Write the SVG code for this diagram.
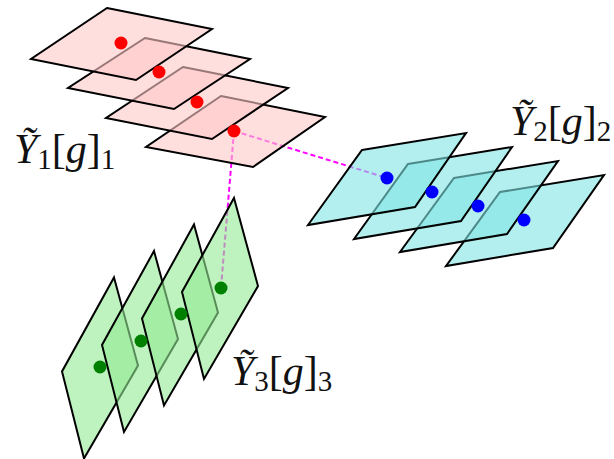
<svg xmlns="http://www.w3.org/2000/svg" width="614" height="459" viewBox="0 0 614 459">
<style>
.pl{stroke:#000;stroke-width:2;stroke-linejoin:miter}
.pk{fill:#ffc8c8;fill-opacity:0.6}
.cy{fill:#80e4e4;fill-opacity:0.6}
.gr{fill:#93e993;fill-opacity:0.6}
.conn{stroke:#ff00ff;stroke-width:2;stroke-dasharray:5 3;fill:none}
.lbl{font-family:"Liberation Serif","DejaVu Serif",serif;font-size:42px;fill:#111}
.it{font-style:italic}
.sub{font-size:29px}
</style>
<rect width="614" height="459" fill="#fff"/>
<g id="connectors">
<line class="conn" x1="234" y1="131" x2="387" y2="178"/>
<line class="conn" x1="234" y1="131" x2="221" y2="288"/>
</g>
<g id="Y1">
<polygon class="pl pk" points="221,96 325,117 253,167 146,147"/>
<polygon class="pl pk" points="183,67 288,88 212,139 106,118"/>
<polygon class="pl pk" points="145,38 250,59 174,109 68,88"/>
<polygon class="pl pk" points="107,8 212,29 136,80 31,59"/>
<g fill="#ff0000"><circle cx="121" cy="43" r="6.5"/><circle cx="159" cy="72" r="6.5"/><circle cx="197" cy="102" r="6.5"/><circle cx="234" cy="131" r="6.5"/></g>
</g>
<g id="Y2">
<polygon class="pl cy" points="500,192 604,175 553,248 446,266"/>
<polygon class="pl cy" points="454,178 558,161 507,234 400,252"/>
<polygon class="pl cy" points="408,164 512,147 461,221 354,239"/>
<polygon class="pl cy" points="362,150 466,133 415,207 308,225"/>
<g fill="#0000ff"><circle cx="387" cy="178" r="6.5"/><circle cx="432" cy="192" r="6.5"/><circle cx="478" cy="206" r="6.5"/><circle cx="524" cy="220" r="6.5"/></g>
</g>
<g id="Y3">
<polygon class="pl gr" points="114,277.5 138,365.5 84,458.5 62,371.5"/>
<polygon class="pl gr" points="154,251 178,339 124,432 102,345"/>
<polygon class="pl gr" points="194,224.5 218,312.5 164,405.5 142,318.5"/>
<polygon class="pl gr" points="234,198 258,286 204,379 182,292"/>
<g fill="#008000"><circle cx="100" cy="367" r="6.5"/><circle cx="141" cy="341" r="6.5"/><circle cx="181" cy="314" r="6.5"/><circle cx="221" cy="288" r="6.5"/></g>
</g>
<g id="label1"><text class="lbl" x="14" y="163"><tspan class="it">Ỹ</tspan><tspan class="sub" dy="6">1</tspan><tspan dy="-6">[</tspan><tspan class="it">g</tspan>]<tspan class="sub" dy="6">1</tspan></text></g>
<g id="label2"><text class="lbl" x="510" y="135"><tspan class="it">Ỹ</tspan><tspan class="sub" dy="6">2</tspan><tspan dy="-6">[</tspan><tspan class="it">g</tspan>]<tspan class="sub" dy="6">2</tspan></text></g>
<g id="label3"><text class="lbl" x="231" y="385"><tspan class="it">Ỹ</tspan><tspan class="sub" dy="6">3</tspan><tspan dy="-6">[</tspan><tspan class="it">g</tspan>]<tspan class="sub" dy="6">3</tspan></text></g>
</svg>
